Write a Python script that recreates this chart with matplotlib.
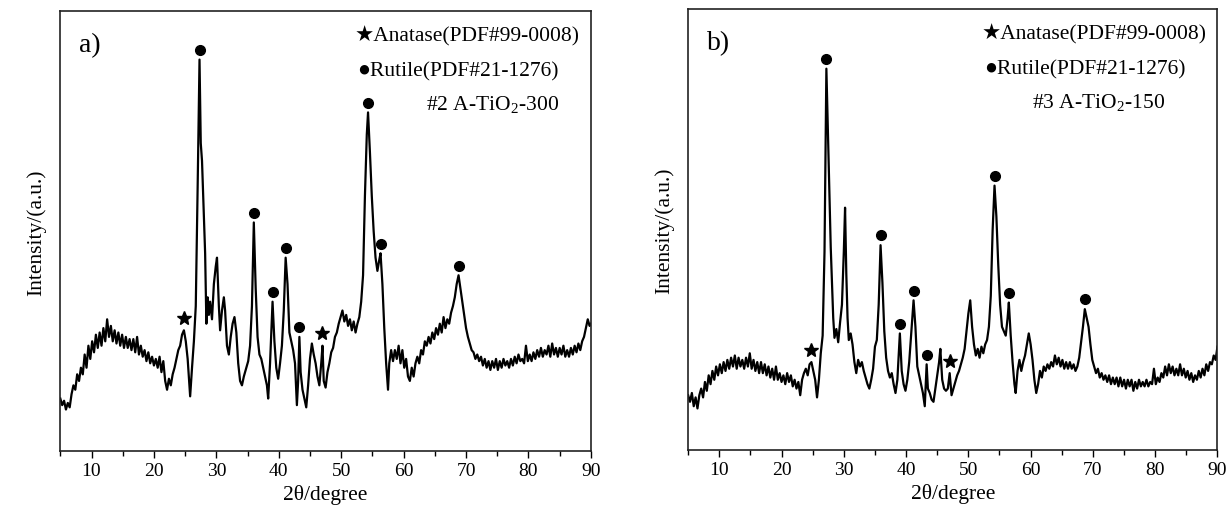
import numpy as np
import matplotlib
matplotlib.use("Agg")
import matplotlib.pyplot as plt

plt.rcParams['font.family'] = ['Liberation Serif', 'DejaVu Sans']
plt.rcParams['mathtext.fontset'] = 'custom'
plt.rcParams['mathtext.rm'] = 'Liberation Serif'
plt.rcParams['mathtext.it'] = 'Liberation Serif:italic'

# ---- panel a: #2 A-TiO2-300 (2theta, intensity in % of axis height) ----
tt_a = [5.0, 5.3, 5.6, 5.9, 6.2, 6.5, 6.8, 7.1, 7.4, 7.7, 8.0, 8.3, 8.6, 8.9, 9.2, 9.5, 9.8, 10.1, 10.4, 10.7,
        11.0, 11.3, 11.6, 11.9, 12.2, 12.5, 12.8, 13.1, 13.4, 13.7, 14.0, 14.3, 14.6, 14.9, 15.2, 15.5, 15.8,
        16.1, 16.4, 16.7, 17.0, 17.3, 17.6, 17.9, 18.2, 18.5, 18.8, 19.1, 19.4, 19.7, 20.0, 20.3, 20.6, 20.9,
        21.2, 21.5, 21.8, 22.1, 22.4, 22.7, 23.0, 23.3, 23.6, 23.9, 24.2, 24.5, 24.8, 25.1, 25.4, 25.8, 26.1,
        26.4, 26.7, 27.0, 27.3, 27.5, 27.7, 28.0, 28.2, 28.4, 28.6, 28.8, 29.0, 29.3, 29.6, 29.9, 30.1, 30.4,
        30.6, 30.9, 31.2, 31.4, 31.7, 32.0, 32.3, 32.6, 32.9, 33.2, 33.5, 33.8, 34.1, 34.4, 34.8, 35.1, 35.4,
        35.7, 36.0, 36.3, 36.6, 36.9, 37.2, 37.5, 37.8, 38.1, 38.3, 38.6, 39.0, 39.3, 39.6, 39.9, 40.2, 40.5,
        40.8, 41.1, 41.4, 41.7, 42.0, 42.3, 42.6, 42.9, 43.1, 43.3, 43.5, 43.8, 44.1, 44.4, 44.7, 45.0, 45.3,
        45.6, 45.9, 46.2, 46.5, 46.8, 47.0, 47.2, 47.5, 47.8, 48.1, 48.4, 48.7, 49.0, 49.3, 49.6, 49.9, 50.2,
        50.5, 50.8, 51.1, 51.4, 51.7, 52.0, 52.3, 52.6, 52.9, 53.2, 53.5, 53.8, 54.1, 54.3, 54.6, 54.9, 55.2,
        55.5, 55.8, 56.1, 56.3, 56.6, 56.9, 57.2, 57.5, 57.7, 58.0, 58.3, 58.6, 58.9, 59.2, 59.5, 59.8, 60.1,
        60.4, 60.7, 61.0, 61.3, 61.6, 61.9, 62.2, 62.5, 62.8, 63.1, 63.4, 63.7, 64.0, 64.3, 64.6, 64.9, 65.2,
        65.5, 65.8, 66.1, 66.4, 66.7, 67.0, 67.3, 67.6, 67.9, 68.2, 68.5, 68.8, 69.1, 69.4, 69.7, 70.0, 70.3,
        70.6, 70.9, 71.2, 71.5, 71.8, 72.1, 72.4, 72.7, 73.0, 73.3, 73.6, 73.9, 74.2, 74.5, 74.8, 75.1, 75.4,
        75.7, 76.0, 76.3, 76.6, 76.9, 77.2, 77.5, 77.8, 78.1, 78.4, 78.7, 79.0, 79.3, 79.6, 79.9, 80.2, 80.5,
        80.8, 81.1, 81.4, 81.7, 82.0, 82.3, 82.6, 82.9, 83.2, 83.5, 83.8, 84.1, 84.4, 84.7, 85.0, 85.3, 85.6,
        85.9, 86.2, 86.5, 86.8, 87.1, 87.4, 87.7, 88.0, 88.3, 88.6, 88.9, 89.2, 89.5, 89.8, 90.0]
int_a = [12, 10.5, 11.5, 9.5, 11, 10, 13, 15, 14, 17.5, 16, 19, 17.5, 22, 19, 24, 21, 25, 22.5, 26.5,
         23.5, 27, 24, 28, 25, 30, 26, 28.5, 25, 27.5, 24.5, 27, 24, 26.5, 23.5, 26, 23.5,
         25.5, 23, 25.5, 22.5, 26, 22, 24, 21.5, 23, 20.5, 22.5, 20, 21.5, 19.5, 21, 19, 21.5,
         18, 20.5, 16, 14, 16.5, 15, 17.5, 19, 21, 23, 24, 26.5, 27.5, 25, 21, 12.5, 19,
         25, 33, 60, 89, 70, 66, 53, 45, 29, 35, 31, 34, 30, 38, 42, 44, 33,
         27.5, 32, 35, 32, 24, 22, 26, 29, 30.5, 27, 20, 16, 15, 17, 19, 20.5, 24,
         33, 52, 37, 26, 22, 21, 19, 17, 15, 12, 20, 34, 25, 19, 16.5, 20, 24,
         32, 44, 38, 27, 25, 23, 20, 10.5, 16, 26, 18, 14, 12, 10, 15, 21, 24.5,
         22, 20, 17, 15, 20, 24, 16, 14.5, 18, 20, 22.5, 23.5, 26, 27, 29, 30.5, 32,
         29.5, 31, 28.5, 30, 27.5, 29.5, 27, 29, 30.5, 34, 40, 58, 72, 77, 68, 58, 50,
         44, 41, 43.5, 45, 38, 28, 20, 14, 20, 23, 20.5, 23, 21, 24, 20, 23, 19,
         21, 17, 16, 19, 17, 20, 21.5, 20, 23, 22, 25, 24, 26, 24.5, 27, 25.5, 28,
         26.5, 29, 27, 30.5, 28, 30, 29, 31.5, 33, 35, 38, 40, 37, 34, 31, 28, 26,
         24.5, 23, 22.5, 21, 22, 20.5, 21.5, 19.5, 21, 19, 20.5, 18.5, 20.5, 19, 21, 18.5, 20.5,
         19, 21, 19.5, 20.5, 19, 21, 19.5, 21.5, 20, 22, 20.5, 21, 20, 24, 20.5, 22, 20.5,
         22.5, 21, 23, 21.5, 23.5, 21.5, 23, 22, 24, 21.5, 24.5, 22, 23.5, 21.5, 23.5, 22, 24,
         21.5, 23, 21.5, 23.5, 22, 24, 22.5, 24.5, 23, 25, 26, 28, 30, 28.5, 29]

# ---- panel b: #3 A-TiO2-150 ----
tt_b = [5.0, 5.3, 5.6, 5.9, 6.2, 6.5, 6.8, 7.1, 7.4, 7.7, 8.0, 8.3, 8.6, 8.9, 9.2, 9.5, 9.8, 10.1, 10.4, 10.7,
        11.0, 11.3, 11.6, 11.9, 12.2, 12.5, 12.8, 13.1, 13.4, 13.7, 14.0, 14.3, 14.6, 14.9, 15.2, 15.5, 15.8,
        16.1, 16.4, 16.7, 17.0, 17.3, 17.6, 17.9, 18.2, 18.5, 18.8, 19.1, 19.4, 19.7, 20.0, 20.3, 20.6, 20.9,
        21.2, 21.5, 21.8, 22.1, 22.4, 22.7, 23.0, 23.3, 23.6, 23.9, 24.2, 24.5, 24.8, 25.1, 25.4, 25.7, 26.0,
        26.3, 26.6, 26.9, 27.2, 27.4, 27.6, 27.9, 28.1, 28.3, 28.5, 28.8, 29.1, 29.4, 29.7, 30.0, 30.2, 30.4,
        30.6, 30.8, 31.1, 31.4, 31.7, 32.0, 32.3, 32.6, 32.9, 33.2, 33.5, 33.8, 34.1, 34.4, 34.7, 35.0, 35.3,
        35.6, 35.9, 36.2, 36.5, 36.8, 37.1, 37.4, 37.7, 38.0, 38.3, 38.6, 39.0, 39.3, 39.6, 39.9, 40.2, 40.5,
        40.8, 41.2, 41.5, 41.8, 42.1, 42.4, 42.7, 43.0, 43.3, 43.5, 43.8, 44.1, 44.4, 44.7, 45.0, 45.3, 45.5,
        45.8, 46.1, 46.4, 46.7, 47.0, 47.3, 47.6, 47.9, 48.2, 48.5, 48.8, 49.1, 49.4, 49.7, 50.0, 50.3, 50.6,
        50.9, 51.2, 51.5, 51.8, 52.1, 52.4, 52.7, 53.0, 53.3, 53.6, 53.9, 54.2, 54.5, 54.8, 55.1, 55.4, 55.7,
        56.0, 56.3, 56.5, 56.8, 57.1, 57.4, 57.6, 57.9, 58.2, 58.5, 58.8, 59.1, 59.4, 59.7, 60.0, 60.3, 60.6,
        60.9, 61.2, 61.5, 61.8, 62.1, 62.4, 62.7, 63.0, 63.3, 63.6, 63.9, 64.2, 64.5, 64.8, 65.1, 65.4, 65.7,
        66.0, 66.3, 66.6, 66.9, 67.2, 67.5, 67.8, 68.1, 68.4, 68.7, 69.0, 69.3, 69.6, 69.9, 70.2, 70.5, 70.8,
        71.1, 71.4, 71.7, 72.0, 72.3, 72.6, 72.9, 73.2, 73.5, 73.8, 74.1, 74.4, 74.7, 75.0, 75.3, 75.6, 75.9,
        76.2, 76.5, 76.8, 77.1, 77.4, 77.7, 78.0, 78.3, 78.6, 78.9, 79.2, 79.5, 79.8, 80.1, 80.4, 80.7, 81.0,
        81.3, 81.6, 81.9, 82.2, 82.5, 82.8, 83.1, 83.4, 83.7, 84.0, 84.3, 84.6, 84.9, 85.2, 85.5, 85.8, 86.1,
        86.4, 86.7, 87.0, 87.3, 87.6, 87.9, 88.2, 88.5, 88.8, 89.1, 89.4, 89.7, 90.0]
int_b = [12.5, 11, 13, 10, 12, 9.5, 12.5, 14, 12, 15.5, 13.5, 17, 15, 18, 16, 19, 17, 19.5, 17.5, 20,
         18, 20.5, 18.5, 21, 19, 21.5, 18.5, 21, 19, 20.5, 18.5, 21, 19, 22, 18.5, 20.5, 18,
         20, 17.5, 20, 17.5, 19.5, 17, 19, 16.5, 18.5, 16, 19, 16, 17.5, 15.5, 17, 15, 17.5,
         15.5, 17, 14.5, 16, 14, 15.5, 12.5, 16, 17.5, 18.5, 17, 19.5, 20, 18, 16, 12, 16,
         22, 26, 45, 86.5, 75, 64, 46, 38, 30, 25.5, 27.5, 24.5, 29, 33, 45, 55, 40,
         30, 25, 26.5, 24, 20, 17.5, 20.5, 19, 20, 18, 16.5, 15, 14, 16, 18.5, 23.5, 25,
         33, 46.5, 38, 27, 21, 18, 16.5, 17.5, 15, 13, 16, 26.5, 18, 15, 13.5, 16, 20,
         26, 34, 28, 19, 17, 15, 13, 10, 19.5, 14, 13, 11.5, 11, 14, 17, 20, 23,
         16, 14, 13.5, 14, 17.5, 12.5, 14, 15.5, 17, 18, 19.5, 21, 23, 27, 31, 34, 28,
         24, 21.5, 23, 21, 23.5, 22, 24, 25, 28, 35, 50, 60, 53, 42, 33, 28, 27,
         26, 30, 33.5, 26, 20, 15, 13, 18, 20.5, 18, 20, 21.5, 24, 26.5, 24, 20.5, 16,
         13, 15, 18, 16.5, 19, 18, 19.5, 18.5, 20, 19, 21.5, 19.5, 21, 19, 20.5, 18.5, 20,
         18.5, 20, 18.5, 19.5, 18, 19, 21, 24.5, 28, 32, 30, 28, 24, 20.5, 19, 17.5, 18.5,
         16.5, 17.5, 16, 17, 15.5, 17, 15, 16.5, 15, 16.5, 14.5, 16.5, 14.5, 16, 14, 16, 14.5,
         16, 13.5, 15.5, 14, 16, 14.5, 15.5, 14.5, 16, 14.5, 15.5, 15, 18.5, 15, 16.5, 15.5, 17.5,
         16.5, 19, 17, 19.5, 17.5, 19, 17, 18.5, 17, 19.5, 17, 18.5, 16.5, 18, 16, 17.5, 15.5,
         17, 16, 18, 16.5, 18.5, 17, 19.5, 18, 20, 19.5, 21.5, 20.5, 23.5]

# phase peak positions (2theta)
rutile_a = [27.3, 36.0, 39.0, 41.1, 43.3, 54.3, 56.3, 68.8]
anatase_a = [24.8, 47.0]
rutile_b = [27.2, 35.9, 39.0, 41.2, 43.3, 54.2, 56.5, 68.7]
anatase_b = [24.8, 47.0]

panels = [
    ("a)", "#2 A-TiO$_2$-300", tt_a, int_a, rutile_a, anatase_a, [0.049, 0.106, 0.431, 0.870], 0.69),
    ("b)", "#3 A-TiO$_2$-150", tt_b, int_b, rutile_b, anatase_b, [0.559, 0.108, 0.430, 0.872], 0.65),
]

fig = plt.figure(figsize=(12.31, 5.06), dpi=100)

for tag, sample, tt, inten, rut, ana, rect, sx in panels:
    ax = fig.add_axes(rect)
    ax.plot(tt, inten, color='black', lw=1.6)
    ry = np.interp(rut, tt, inten) + 2.2
    ay = np.interp(ana, tt, inten) + 2.8
    ax.plot(rut, ry, 'o', color='black', ms=7, ls='none')
    ax.plot(ana, ay, '*', color='black', ms=10, ls='none')

    ax.set_xlim(5, 90)
    ax.set_ylim(0, 100)
    ax.set_xticks(range(10, 91, 10))
    ax.set_xticks(range(5, 91, 5), minor=True)
    ax.set_yticks([])
    ax.tick_params(axis='x', which='major', direction='out', length=5, width=1, labelsize=14, pad=3)
    ax.tick_params(axis='x', which='minor', direction='out', length=3.5, width=1)
    for s in ax.spines.values():
        s.set_linewidth(1.2)
        s.set_color('#222222')
    ax.set_xlabel("2θ/degree", fontsize=15.5, labelpad=3)
    ax.set_ylabel("Intensity/(a.u.)", fontsize=15.5, labelpad=10)

    ax.text(0.035, 0.925, tag, transform=ax.transAxes, fontsize=20, va='center')
    ax.text(0.555, 0.945, "★Anatase(PDF#99-0008)", transform=ax.transAxes,
            fontsize=15.5, va='center', family=['Liberation Serif', 'DejaVu Sans'])
    ax.text(0.56, 0.865, "●Rutile(PDF#21-1276)", transform=ax.transAxes,
            fontsize=15.5, va='center', family=['Liberation Serif', 'DejaVu Sans'])
    ax.text(sx, 0.79, sample, transform=ax.transAxes, fontsize=15.5, va='center')

fig.savefig("out.png", dpi=100)
